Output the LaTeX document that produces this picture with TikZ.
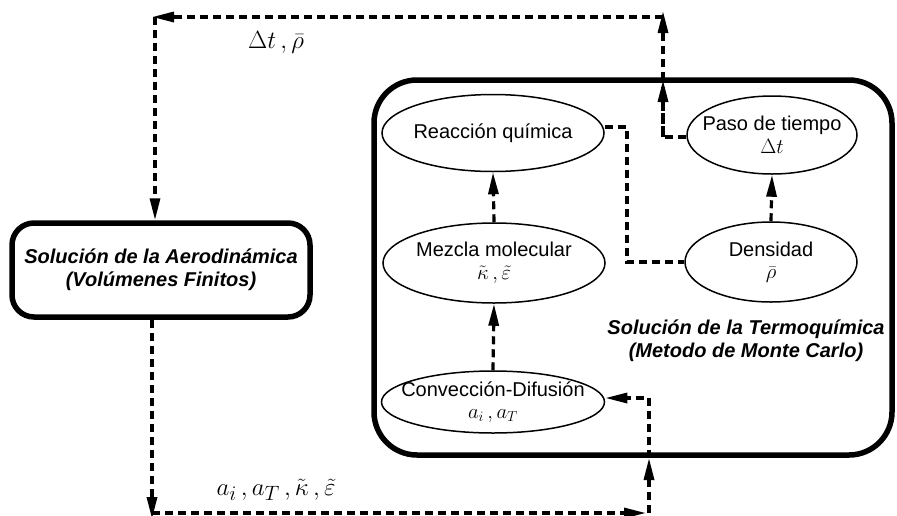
\documentclass[tikz,border=0pt]{standalone}
\usepackage{fontspec}
\setmainfont{Liberation Sans}
\usetikzlibrary{shapes.geometric,arrows.meta}
\tikzset{
  dline/.style={line width=3.2pt, dash pattern=on 8pt off 5pt},
  arr/.style={dline, -{Triangle[length=22pt,width=10pt]}},
  ell/.style={ellipse, draw, line width=1.5pt, inner xsep=-50pt, inner ysep=-20pt, align=center, font=\fontsize{20}{22}\selectfont},
  thickbox/.style={draw, line width=5.5pt, rounded corners=22pt},
  boldlab/.style={align=center, font=\fontsize{20}{23}\selectfont\bfseries\itshape},
  biglab/.style={font=\fontsize{26}{30}\selectfont}
}
\begin{document}
\begin{tikzpicture}[x=1pt,y=-1pt]
\useasboundingbox (0,0) rectangle (897,515);
% main boxes
\node[thickbox, minimum width=298pt, minimum height=94pt, boldlab] (aero) at (161,270) {Solución de la Aerodinámica\\(Volúmenes Finitos)};
\node[thickbox, rounded corners=43pt, minimum width=518pt, minimum height=375pt] (thermo) at (633,267.5) {};
\node[boldlab] (thermolab) at (746,341) {Solución de la Termoquímica\\(Metodo de Monte Carlo)};
% ellipses
\node[ell, minimum width=222pt, minimum height=77pt] (rea) at (493,133) {Reacción química};
\node[ell, minimum width=170pt, minimum height=78pt] (paso) at (772,135) {Paso de tiempo\\[1pt]$\Delta t$};
\node[ell, minimum width=222pt, minimum height=80pt] (mez) at (494,263) {Mezcla molecular\\[1pt]$\tilde{\kappa}\,,\tilde{\varepsilon}$};
\node[ell, minimum width=172pt, minimum height=80pt] (den) at (771,262) {Densidad\\$\bar{\rho}$};
\node[ell, minimum width=223pt, minimum height=62pt] (conv) at (493,402) {Convección-Difusión\\$a_i\,,a_T$};
% labels
\node[biglab] (lab1) at (276,42) {$\Delta t\,,\bar{\rho}$};
\node[biglab, font=\fontsize{28}{32}\selectfont] (lab2) at (276,490) {$a_i\,,a_T\,,\tilde{\kappa}\,,\tilde{\varepsilon}$};
% coordinates
\coordinate (ptop) at (663,17);
\coordinate (pmid) at (663,80);
\coordinate (pbend) at (663,137);
\coordinate (tl) at (152,17);
\coordinate (bl) at (152,513);
\coordinate (br) at (649,513);
\coordinate (bmid) at (649,458);
\coordinate (bbend) at (649,398);
\coordinate (rbend) at (627,127);
\coordinate (dbend) at (627,262);
% internal connectors
\draw[arr] (conv.north) -- (mez.south);
\draw[arr] (mez.north) -- (rea.south);
\draw[arr] (den.north) -- (paso.south);
\draw[dline] (rea.east |- rbend) -- (rbend) -- (dbend) -- (den.west |- dbend);
% top loop
\draw[dline] (paso.west |- pbend) -- (pbend) -- (pmid);
\draw[arr] (pbend) -- (pmid);
\draw[arr] (pmid) -- ([yshift=6pt]ptop);
\draw[arr] (ptop) -- (tl);
\draw[arr] ([xshift=3pt]tl) -- ([xshift=3pt]tl |- aero.north);
% bottom loop
\draw[arr] (aero.south -| tl) -- ([yshift=-6pt]bl);
\draw[arr] (bl) -- ([xshift=-3pt]br);
\draw[arr] (br) -- (bmid);
\draw[arr] (bmid) -- (bbend) -- (conv.east |- bbend);
\end{tikzpicture}
\end{document}
